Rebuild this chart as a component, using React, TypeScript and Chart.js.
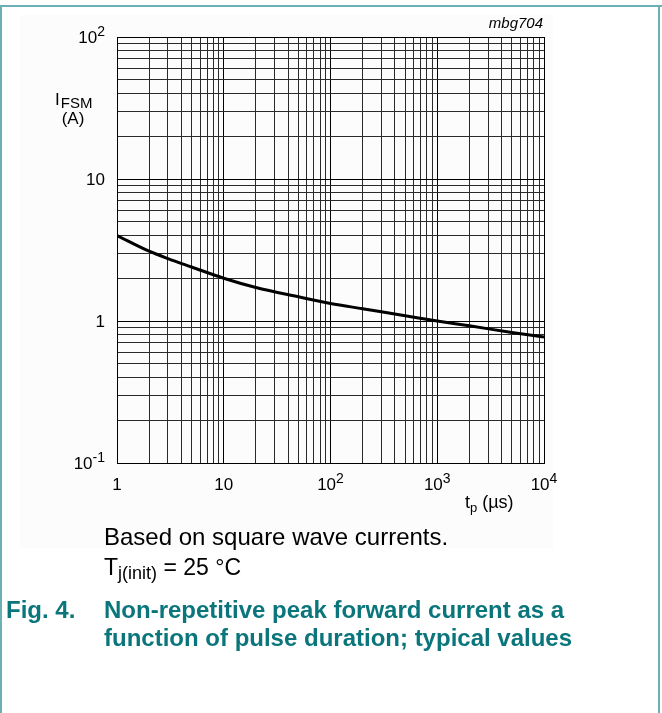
import React, { useEffect, useRef } from 'react';
import { Chart, registerables } from 'chart.js';

Chart.register(...registerables);

// ---- data ----
const tpValues = [1, 2, 3, 5, 10, 20, 50, 100, 200, 500, 1000, 2000, 5000, 10000];
const ifsmValues = [4.0, 3.1, 2.75, 2.4, 2.0, 1.72, 1.48, 1.33, 1.22, 1.09, 1.0, 0.925, 0.83, 0.77];

const xDecades = [1, 10, 100, 1000, 10000];
const xTickBase = ['1', '10', '10', '10', '10'];
const xTickSup = ['', '', '2', '3', '4'];

const yDecades = [0.1, 1, 10, 100];
const yTickBase = ['10', '1', '10', '10'];
const yTickSup = ['-1', '', '', '2'];

const mantissas = [1, 2, 3, 4, 5, 6, 7, 8, 9];

const figId = 'mbg704';
const noteLine1 = 'Based on square wave currents.';
const captionNum = 'Fig. 4.';
const captionLine1 = 'Non-repetitive peak forward current as a';
const captionLine2 = 'function of pulse duration; typical values';

const FONT = '"Liberation Sans", Arial, Helvetica, sans-serif';
const TEAL = '#0a767c';
const FRAME = '#6cb0b5';

function gridTicks(decades: number[]) {
  const out: number[] = [];
  decades.forEach((d, i) => {
    if (i === decades.length - 1) {
      out.push(d);
      return;
    }
    mantissas.forEach((m) => out.push(+(d * m).toPrecision(6)));
  });
  return out;
}

function isDecade(v: number | undefined) {
  if (v === undefined || v <= 0) return false;
  const l = Math.log10(v);
  return Math.abs(l - Math.round(l)) < 1e-6;
}

function drawSupLabel(
  ctx: CanvasRenderingContext2D,
  base: string,
  sup: string,
  x: number,
  baseline: number,
  align: 'right' | 'center',
  baseSize: number,
  supSize: number,
  rise: number
) {
  ctx.font = `${baseSize}px ${FONT}`;
  const wB = ctx.measureText(base).width;
  ctx.font = `${supSize}px ${FONT}`;
  const wS = sup ? ctx.measureText(sup).width : 0;
  const total = wB + wS;
  const start = align === 'right' ? x - total : x - total / 2;
  ctx.textAlign = 'left';
  ctx.textBaseline = 'alphabetic';
  ctx.font = `${baseSize}px ${FONT}`;
  ctx.fillText(base, start, baseline);
  if (sup) {
    ctx.font = `${supSize}px ${FONT}`;
    ctx.fillText(sup, start + wB, baseline - rise);
  }
}

const decorPlugin = {
  id: 'decor',
  beforeDraw(chart: any) {
    const ctx: CanvasRenderingContext2D = chart.ctx;
    ctx.save();
    ctx.fillStyle = '#ffffff';
    ctx.fillRect(0, 0, chart.width, chart.height);
    ctx.fillStyle = '#fcfcfc';
    ctx.fillRect(20, 15, 533, 533);
    ctx.fillStyle = FRAME;
    ctx.fillRect(0, 5, chart.width, 2);
    ctx.fillRect(0, 5, 2, chart.height - 5);
    ctx.fillRect(658, 5, 2, chart.height - 5);
    ctx.restore();
  },
  afterDraw(chart: any) {
    const ctx: CanvasRenderingContext2D = chart.ctx;
    const xs = chart.scales.x;
    const ys = chart.scales.y;
    ctx.save();
    ctx.fillStyle = '#000';

    // y tick labels
    yDecades.forEach((v, i) => {
      const py = ys.getPixelForValue(v);
      drawSupLabel(ctx, yTickBase[i], yTickSup[i], 105, py + 6, 'right', 17, 14, 7);
    });
    // x tick labels
    xDecades.forEach((v, i) => {
      const px = xs.getPixelForValue(v);
      drawSupLabel(ctx, xTickBase[i], xTickSup[i], px, 490, 'center', 17, 14, 7);
    });

    ctx.textAlign = 'left';
    ctx.textBaseline = 'alphabetic';

    // y axis title I_FSM (A)
    ctx.font = `17px ${FONT}`;
    ctx.fillText('I', 55, 105);
    const wI = ctx.measureText('I').width;
    ctx.font = `15px ${FONT}`;
    ctx.fillText('FSM', 55 + wI + 1, 108);
    ctx.font = `17px ${FONT}`;
    ctx.textAlign = 'center';
    ctx.fillText('(A)', 73, 124);

    // x axis title t_p (µs)
    ctx.textAlign = 'left';
    ctx.font = `18px ${FONT}`;
    ctx.fillText('t', 465, 508);
    let wx = 465 + ctx.measureText('t').width;
    ctx.font = `13px ${FONT}`;
    ctx.fillText('p', wx, 512);
    wx += ctx.measureText('p').width;
    ctx.font = `18px ${FONT}`;
    ctx.fillText(' (\u00b5s)', wx, 508);

    // figure id
    ctx.font = `italic 15px ${FONT}`;
    ctx.textAlign = 'right';
    ctx.fillText(figId, 543, 28);

    // notes
    ctx.textAlign = 'left';
    ctx.font = `24px ${FONT}`;
    ctx.fillText(noteLine1, 104, 545);
    ctx.font = `23px ${FONT}`;
    ctx.fillText('T', 104, 575);
    let tx = 104 + ctx.measureText('T').width;
    ctx.font = `18px ${FONT}`;
    ctx.fillText('j(init)', tx, 579);
    tx += ctx.measureText('j(init)').width;
    ctx.font = `23px ${FONT}`;
    ctx.fillText(' = 25 \u00b0C', tx, 575);

    // caption
    ctx.fillStyle = TEAL;
    ctx.font = `bold 24px ${FONT}`;
    ctx.fillText(captionNum, 6, 618);
    ctx.fillText(captionLine1, 104, 618);
    ctx.fillText(captionLine2, 104, 646);

    ctx.restore();
  },
};

export default function App() {
  const canvasRef = useRef<HTMLCanvasElement | null>(null);

  useEffect(() => {
    const canvas = canvasRef.current;
    if (!canvas) return;
    const xGrid = gridTicks(xDecades);
    const yGrid = gridTicks(yDecades);
    const gridColor = (c: any) => (isDecade(c.tick && c.tick.value) ? '#000000' : '#2a2a2a');

    const chart = new Chart(canvas, {
      type: 'line',
      data: {
        datasets: [
          {
            data: tpValues.map((x, i) => ({ x, y: ifsmValues[i] })),
            borderColor: '#000000',
            borderWidth: 3,
            pointRadius: 0,
            fill: false,
            cubicInterpolationMode: 'monotone',
          },
        ],
      },
      options: {
        animation: false,
        responsive: false,
        devicePixelRatio: 1,
        layout: { padding: { left: 117, top: 37, right: 118, bottom: 250 } },
        plugins: { legend: { display: false }, tooltip: { enabled: false } },
        scales: {
          x: {
            type: 'logarithmic',
            min: 1,
            max: 10000,
            afterBuildTicks: (axis: any) => {
              axis.ticks = xGrid.map((value) => ({ value }));
            },
            ticks: { display: false },
            grid: { drawTicks: false, color: gridColor, lineWidth: 1 },
            border: { display: true, color: '#000', width: 1 },
          },
          y: {
            type: 'logarithmic',
            min: 0.1,
            max: 100,
            afterBuildTicks: (axis: any) => {
              axis.ticks = yGrid.map((value) => ({ value }));
            },
            ticks: { display: false },
            grid: { drawTicks: false, color: gridColor, lineWidth: 1 },
            border: { display: true, color: '#000', width: 1 },
          },
        },
      } as any,
      plugins: [decorPlugin],
    });
    return () => chart.destroy();
  }, []);

  return (
    <div style={{ position: 'absolute', left: 0, top: 0, width: 662, height: 713, background: '#fff' }}>
      <canvas ref={canvasRef} width={662} height={713} style={{ width: 662, height: 713, display: 'block' }} />
    </div>
  );
}
